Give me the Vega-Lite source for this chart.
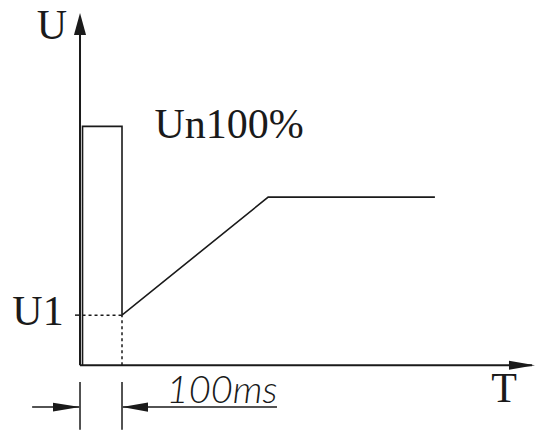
{
  "$schema": "https://vega.github.io/schema/vega-lite/v6.json",
  "width": 537,
  "height": 431,
  "autosize": {"type": "fit", "contains": "padding"},
  "padding": 0,
  "background": "white",
  "config": {"view": {"stroke": null}},
  "datasets": {
    "segments": [
      {"id": "U axis", "t": 0, "u": 0, "t2": 0, "u2": 141, "style": "axis"},
      {"id": "T axis", "t": 0, "u": 0, "t2": 1076, "u2": 0, "style": "axis"},
      {"id": "U1 tick", "t": -12, "u": 21, "t2": 0, "u2": 21, "style": "solid"},
      {"id": "ext 0", "t": 0, "u": -7, "t2": 0, "u2": -27, "style": "solid"},
      {"id": "ext 100", "t": 100, "u": -7, "t2": 100, "u2": -27, "style": "solid"},
      {"id": "dim left", "t": -114, "u": -17.5, "t2": -2, "u2": -17.5, "style": "solid"},
      {"id": "dim right", "t": 102, "u": -17.5, "t2": 469, "u2": -17.5, "style": "solid"},
      {"id": "U1 level", "t": 6, "u": 21, "t2": 100, "u2": 21, "style": "dotted"},
      {"id": "100ms mark", "t": 100, "u": 0, "t2": 100, "u2": 21, "style": "dotted"}
    ],
    "waveform": [
      {"step": 1, "t": 6, "u": 0},
      {"step": 2, "t": 6, "u": 100},
      {"step": 3, "t": 100, "u": 100},
      {"step": 4, "t": 100, "u": 21},
      {"step": 5, "t": 448, "u": 70.4},
      {"step": 6, "t": 845, "u": 70.4}
    ],
    "arrows": [
      {"id": "up", "t": 0, "u": 147.5},
      {"id": "right", "t": 1083.3, "u": 0},
      {"id": "dimL", "t": 0, "u": -17.5},
      {"id": "dimR", "t": 100, "u": -17.5}
    ],
    "labels": [
      {"text": "U", "t": -66.7, "u": 142.1, "kind": "serif"},
      {"text": "U1", "t": -100, "u": 22.5, "kind": "serif"},
      {"text": "Un100%", "t": 355, "u": 100.8, "kind": "serif"},
      {"text": "T", "t": 1009.5, "u": -10, "kind": "serif"},
      {"text": "100ms", "t": 338, "u": -11.2, "kind": "italic"}
    ]
  },
  "encoding": {
    "x": {"field": "t", "type": "quantitative", "scale": {"domain": [-190.5, 1088.1], "nice": false, "zero": false}, "axis": null},
    "y": {"field": "u", "type": "quantitative", "scale": {"domain": [-26.67, 152.92], "nice": false, "zero": false}, "axis": null}
  },
  "layer": [
    {
      "data": {"name": "segments"},
      "transform": [{"filter": "datum.style === 'axis'"}],
      "mark": {"type": "rule", "color": "#1a1a1a", "strokeWidth": 2},
      "encoding": {"x2": {"field": "t2"}, "y2": {"field": "u2"}}
    },
    {
      "data": {"name": "segments"},
      "transform": [{"filter": "datum.style === 'solid'"}],
      "mark": {"type": "rule", "color": "#1a1a1a", "strokeWidth": 1.5},
      "encoding": {"x2": {"field": "t2"}, "y2": {"field": "u2"}}
    },
    {
      "data": {"name": "segments"},
      "transform": [{"filter": "datum.style === 'dotted'"}],
      "mark": {"type": "rule", "color": "#1a1a1a", "strokeWidth": 1.5, "strokeDash": [3, 3]},
      "encoding": {"x2": {"field": "t2"}, "y2": {"field": "u2"}}
    },
    {
      "data": {"name": "waveform"},
      "mark": {"type": "line", "color": "#1a1a1a", "strokeWidth": 1.6, "strokeJoin": "miter"},
      "encoding": {"order": {"field": "step", "type": "quantitative"}}
    },
    {
      "data": {"name": "arrows"},
      "transform": [{"filter": "datum.id === 'up'"}],
      "mark": {"type": "point", "shape": "M0,0L-0.55,2L0.55,2Z", "size": 484, "filled": true, "color": "#1a1a1a", "opacity": 1, "strokeWidth": 0}
    },
    {
      "data": {"name": "arrows"},
      "transform": [{"filter": "datum.id === 'right'"}],
      "mark": {"type": "point", "shape": "M0,0L-2,-0.35L-2,0.35Z", "size": 676, "filled": true, "color": "#1a1a1a", "opacity": 1, "strokeWidth": 0}
    },
    {
      "data": {"name": "arrows"},
      "transform": [{"filter": "datum.id === 'dimL'"}],
      "mark": {"type": "point", "shape": "M0,0L-2,-0.33L-2,0.33Z", "size": 729, "filled": true, "color": "#1a1a1a", "opacity": 1, "strokeWidth": 0}
    },
    {
      "data": {"name": "arrows"},
      "transform": [{"filter": "datum.id === 'dimR'"}],
      "mark": {"type": "point", "shape": "M0,0L2,-0.35L2,0.35Z", "size": 676, "filled": true, "color": "#1a1a1a", "opacity": 1, "strokeWidth": 0}
    },
    {
      "data": {"name": "labels"},
      "transform": [{"filter": "datum.kind === 'serif'"}],
      "mark": {"type": "text", "font": "Liberation Serif", "fontSize": 42, "align": "center", "baseline": "middle", "color": "#1a1a1a"},
      "encoding": {"text": {"field": "text"}}
    },
    {
      "data": {"name": "labels"},
      "transform": [{"filter": "datum.kind === 'italic'"}],
      "mark": {"type": "text", "font": "Lato", "fontWeight": 300, "fontStyle": "italic", "fontSize": 38, "align": "center", "baseline": "middle", "color": "#1a1a1a"},
      "encoding": {"text": {"field": "text"}}
    }
  ]
}
